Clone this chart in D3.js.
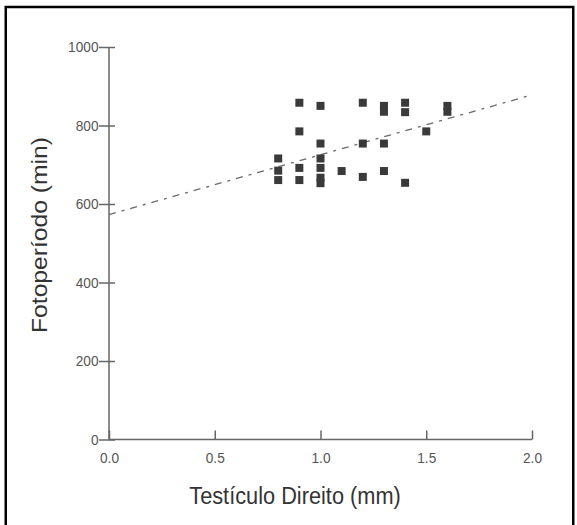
<!DOCTYPE html>
<html>
<head>
<meta charset="utf-8">
<script src="https://cdn.jsdelivr.net/npm/d3@7"></script>
<style>
  html, body { margin: 0; padding: 0; background: #ffffff; }
  svg { display: block; }
</style>
</head>
<body>
<script>
// Data
const xValues = [0.8, 0.8, 0.8, 0.9, 0.9, 0.9, 0.9, 1.0, 1.0, 1.0, 1.0, 1.0, 1.0, 1.1, 1.2, 1.2, 1.2, 1.3, 1.3, 1.3, 1.3, 1.4, 1.4, 1.4, 1.5, 1.6, 1.6];
const yValues = [716, 685, 661, 858, 785, 692, 661, 850, 754, 716, 692, 667, 653, 684, 858, 754, 669, 850, 835, 754, 684, 858, 834, 654, 785, 850, 835];
const fitX = [0.0, 2.0];
const fitY = [573, 878];
const xTicks = [0.0, 0.5, 1.0, 1.5, 2.0];
const yTicks = [0, 200, 400, 600, 800, 1000];
const xTitle = "Testículo Direito (mm)";
const yTitle = "Fotoperíodo (min)";

const W = 577, H = 525;
const sx = 0.882; // horizontal compression of the original picture

const svg = d3.select("body").append("svg").attr("width", W).attr("height", H);
svg.append("rect").attr("x", 0).attr("y", 0).attr("width", W).attr("height", H).attr("fill", "#ffffff");

// outer frame
svg.append("rect").attr("x", 5.75).attr("y", 7).attr("width", 567.5).attr("height", 540)
  .attr("fill", "none").attr("stroke", "#000").attr("stroke-width", 2.5);

const x = d3.scaleLinear().domain([0, 2]).range([109, 532]);
const y = d3.scaleLinear().domain([0, 1000]).range([439.5, 47]);

const axisColor = "#666666";
const tickFont = "'Liberation Sans', Arial, sans-serif";

// Y axis
const gy = svg.append("g").attr("transform", `translate(${x(0)},0)`)
  .call(d3.axisLeft(y).tickValues(yTicks).tickFormat(d3.format("d")).tickSize(10).tickPadding(0));
gy.select(".domain").attr("stroke", axisColor).attr("stroke-width", 1.5);
gy.selectAll(".tick line").attr("stroke", axisColor).attr("stroke-width", 1.5).attr("x1", -10).attr("x2", 6);
gy.selectAll(".tick text")
  .attr("font-family", tickFont).attr("font-size", 15.5).attr("fill", "#555")
  .attr("x", -10.5 / sx).attr("transform", `scale(${sx},1)`);

// X axis
const gx = svg.append("g").attr("transform", `translate(0,${y(0)})`)
  .call(d3.axisBottom(x).tickValues(xTicks).tickFormat(d3.format(".1f")).tickSize(-9).tickPadding(12.2));
gx.select(".domain").attr("stroke", axisColor).attr("stroke-width", 1.5);
gx.selectAll(".tick line").attr("stroke", axisColor).attr("stroke-width", 1.5);
gx.selectAll(".tick text")
  .attr("font-family", tickFont).attr("font-size", 15.5).attr("fill", "#555")
  .attr("transform", `scale(${sx},1)`);
svg.selectAll(".domain").attr("fill", "none");
// remove outer tick stubs of the domain path: draw plain lines instead
gy.select(".domain").attr("d", `M0,${y(1000)}V${y(0)}`);
gx.select(".domain").attr("d", `M${x(0)},0H${x(2)}`);

// fit line (dashed)
const line = d3.line().x((d, i) => x(fitX[i])).y((d, i) => y(fitY[i]));
svg.append("path").datum(fitX).attr("d", line)
  .attr("fill", "none").attr("stroke", "#6a6a6a").attr("stroke-width", 1.3)
  .attr("stroke-dasharray", "7,6,3,6");

// points (squares)
const s = 8;
svg.append("g").selectAll("rect").data(xValues).join("rect")
  .attr("x", (d) => x(d) - s / 2)
  .attr("y", (d, i) => y(yValues[i]) - s / 2)
  .attr("width", s).attr("height", s)
  .attr("fill", "#3a3a3a");

// titles
const titleFont = "'Liberation Sans', Arial, sans-serif";
svg.append("text").attr("transform", `translate(295,504) scale(${sx},1)`)
  .attr("text-anchor", "middle").attr("font-family", titleFont).attr("font-size", 24.66)
  .attr("fill", "#333").text(xTitle);
svg.append("text").attr("transform", `translate(47,235) scale(${sx},1) rotate(-90)`)
  .attr("text-anchor", "middle").attr("font-family", titleFont).attr("font-size", 24.66)
  .attr("fill", "#333").text(yTitle);
</script>
</body>
</html>
